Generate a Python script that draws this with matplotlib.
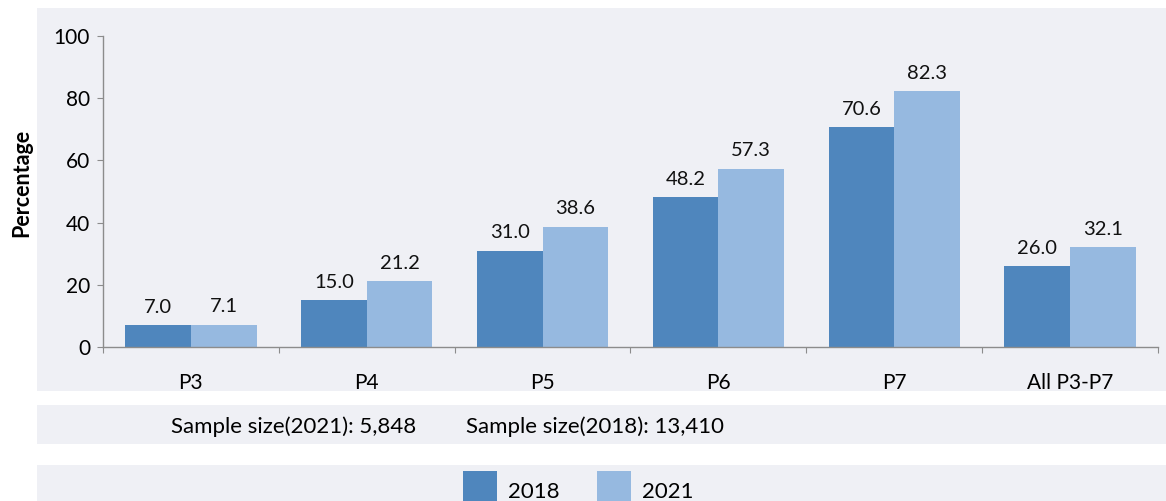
import matplotlib
matplotlib.use("Agg")
import matplotlib.pyplot as plt
from matplotlib.patches import Rectangle
import numpy as np

categories = ["P3", "P4", "P5", "P6", "P7", "All P3-P7"]
series_names = ["2018", "2021"]
values_2018 = [7.0, 15.0, 31.0, 48.2, 70.6, 26.0]
values_2021 = [7.1, 21.2, 38.6, 57.3, 82.3, 32.1]
yticks = [0, 20, 40, 60, 80, 100]
sample_text_2021 = "Sample size(2021): 5,848"
sample_text_2018 = "Sample size(2018): 13,410"

c_dark = "#4f86bd"
c_light = "#96b9e0"
panel = "#eff0f5"
axis_c = "#8c8c8c"

plt.rcParams['font.family'] = ['Lato', 'DejaVu Sans']

W, H = 1166, 501
fig = plt.figure(figsize=(W / 100, H / 100), dpi=100)
fig.patch.set_facecolor("white")

def rect(x0, y0, x1, y1):
    fig.patches.append(Rectangle((x0 / W, 1 - y1 / H), (x1 - x0) / W, (y1 - y0) / H,
                                 transform=fig.transFigure, facecolor=panel,
                                 edgecolor="none", zorder=-5))

rect(37, 8, 1166, 391)
rect(37, 405, 1166, 444)
rect(37, 465, 1166, 501)

ax = fig.add_axes([103 / W, 1 - 347 / H, (1158 - 103) / W, (347 - 36) / H])
ax.set_facecolor("none")
ax.set_zorder(2)

x = np.arange(len(categories))
bw = 0.373
b1 = ax.bar(x - bw / 2, values_2018, bw, color=c_dark, zorder=2)
b2 = ax.bar(x + bw / 2, values_2021, bw, color=c_light, zorder=2)
for bars, vals in ((b1, values_2018), (b2, values_2021)):
    for r, v in zip(bars, vals):
        ax.annotate(f"{v:.1f}", (r.get_x() + r.get_width() / 2, v),
                    xytext=(0, 9), textcoords="offset points",
                    ha="center", va="baseline", fontsize=14.5, color="#111111")

ax.set_xlim(-0.5, len(categories) - 0.5)
ax.set_ylim(0, 100)
ax.set_yticks(yticks)
ax.tick_params(axis="y", direction="out", length=4.3, color=axis_c, labelsize=15, pad=5)
ax.set_xticks(np.arange(len(categories) + 1) - 0.5)
ax.set_xticklabels([])
ax.tick_params(axis="x", direction="out", length=4.3, color=axis_c)
ax.set_xticks(x, minor=True)
ax.set_xticklabels(categories, minor=True, fontsize=15)
ax.tick_params(axis="x", which="minor", length=0, pad=19)
for s in ("top", "right"):
    ax.spines[s].set_visible(False)
for s in ("left", "bottom"):
    ax.spines[s].set_color(axis_c)
    ax.spines[s].set_linewidth(1.0)

fig.text(22 / W, 1 - 183 / H, "Percentage", rotation=90, ha="center", va="center",
         fontsize=15.5, fontweight="bold")

fig.text(171 / W, 1 - 427 / H, sample_text_2021, ha="left", va="center", fontsize=16)
fig.text(466 / W, 1 - 427 / H, sample_text_2018, ha="left", va="center", fontsize=16)

leg = fig.legend([b1, b2], series_names, loc="center", bbox_to_anchor=(578 / W, 1 - 491 / H),
                 ncol=2, frameon=False, fontsize=16, handlelength=1.53, handleheight=2.35,
                 columnspacing=1.67, handletextpad=0.5, borderpad=0.0, borderaxespad=0.0)

fig.savefig("out.png", dpi=100, facecolor="white")
